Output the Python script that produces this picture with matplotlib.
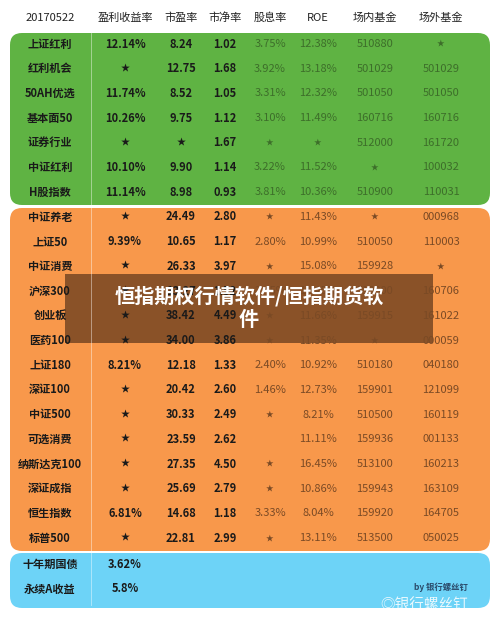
import matplotlib
matplotlib.use("Agg")
import matplotlib.pyplot as plt
from matplotlib.patches import FancyBboxPatch, Rectangle

plt.rcParams['font.family'] = ['Noto Sans CJK SC', 'DejaVu Sans']

headers = ["20170522", "盈利收益率", "市盈率", "市净率", "股息率", "ROE", "场内基金", "场外基金"]
S = "★"
green_rows = [
    ["上证红利", "12.14%", "8.24", "1.02", "3.75%", "12.38%", "510880", S],
    ["红利机会", S, "12.75", "1.68", "3.92%", "13.18%", "501029", "501029"],
    ["50AH优选", "11.74%", "8.52", "1.05", "3.31%", "12.32%", "501050", "501050"],
    ["基本面50", "10.26%", "9.75", "1.12", "3.10%", "11.49%", "160716", "160716"],
    ["证券行业", S, S, "1.67", S, S, "512000", "161720"],
    ["中证红利", "10.10%", "9.90", "1.14", "3.22%", "11.52%", S, "100032"],
    ["H股指数", "11.14%", "8.98", "0.93", "3.81%", "10.36%", "510900", "110031"],
]
orange_rows = [
    ["中证养老", S, "24.49", "2.80", S, "11.43%", S, "000968"],
    ["上证50", "9.39%", "10.65", "1.17", "2.80%", "10.99%", "510050", "110003"],
    ["中证消费", S, "26.33", "3.97", S, "15.08%", "159928", S],
    ["沪深300", S, "13.27", "1.52", "2.45%", "11.45%", "510300", "160706"],
    ["创业板", S, "38.42", "4.49", S, "11.66%", "159915", "161022"],
    ["医药100", S, "34.00", "3.86", S, "11.35%", S, "000059"],
    ["上证180", "8.21%", "12.18", "1.33", "2.40%", "10.92%", "510180", "040180"],
    ["深证100", S, "20.42", "2.60", "1.46%", "12.73%", "159901", "121099"],
    ["中证500", S, "30.33", "2.49", S, "8.21%", "510500", "160119"],
    ["可选消费", S, "23.59", "2.62", "", "11.11%", "159936", "001133"],
    ["纳斯达克100", S, "27.35", "4.50", S, "16.45%", "513100", "160213"],
    ["深证成指", S, "25.69", "2.79", S, "10.86%", "159943", "163109"],
    ["恒生指数", "6.81%", "14.68", "1.18", "3.33%", "8.04%", "159920", "164705"],
    ["标普500", S, "22.81", "2.99", S, "13.11%", "513500", "050025"],
]
blue_rows = [
    ["十年期国债", "3.62%"],
    ["永续A收益", "5.8%"],
]
overlay_title = "恒指期权行情软件/恒指期货软\n件"

col_x = [50, 125, 181, 225, 270, 318, 375, 441]

fig = plt.figure(figsize=(5, 6.19), dpi=100)
ax = fig.add_axes([0, 0, 1, 1])
ax.set_xlim(0, 500); ax.set_ylim(619, 0); ax.axis('off')

def box(y0, y1, color):
    ax.add_patch(FancyBboxPatch((10, y0), 480, y1 - y0, boxstyle="round,pad=0,rounding_size=12",
                                fc=color, ec='none'))

box(33, 205, '#5fb343')
box(208, 551, '#f8984b')
box(553, 608, '#6dd3f7')
ax.plot([91, 91], [33, 605], color='white', lw=0.6, alpha=0.5)

for x, h in zip(col_x, headers):
    ax.text(x, 18, h, ha='center', va='center', fontsize=8, color='#222')

def draw_rows(rows, y0, dy, light):
    for i, r in enumerate(rows):
        y = y0 + i * dy
        for j, v in enumerate(r):
            if j <= 3:
                kw = dict(fontweight='bold', color='#1a1a1a')
            else:
                kw = dict(color=light)
            fs = 6.5 if v == S else 8
            if v == S and j > 3:
                fs = 5.5
            ax.text(col_x[j], y, v, ha='center', va='center', fontsize=fs, **kw)

draw_rows(green_rows, 44, 24.7, '#3d6e2a')
draw_rows(orange_rows, 217, 24.7, '#7a4a25')
draw_rows(blue_rows, 564, 25, '#333')
ax.text(468, 587, "by 银行螺丝钉", ha='right', va='center', fontsize=6, fontweight='bold', color='#2a4a6a')

ax.add_patch(Rectangle((65, 274), 368, 69, fc='#6b3f1f', ec='none', alpha=0.78))
ax.text(249, 308, overlay_title, ha='center', va='center', fontsize=14.5, fontweight='bold',
        color='white', linespacing=1.15)

ax.text(380, 606, "◎银行螺丝钉", ha='left', va='center', fontsize=10.5, color='white', alpha=0.85,
        family=['Noto Sans CJK SC', 'DejaVu Sans'])

fig.savefig("out.png", dpi=100, facecolor='white')
